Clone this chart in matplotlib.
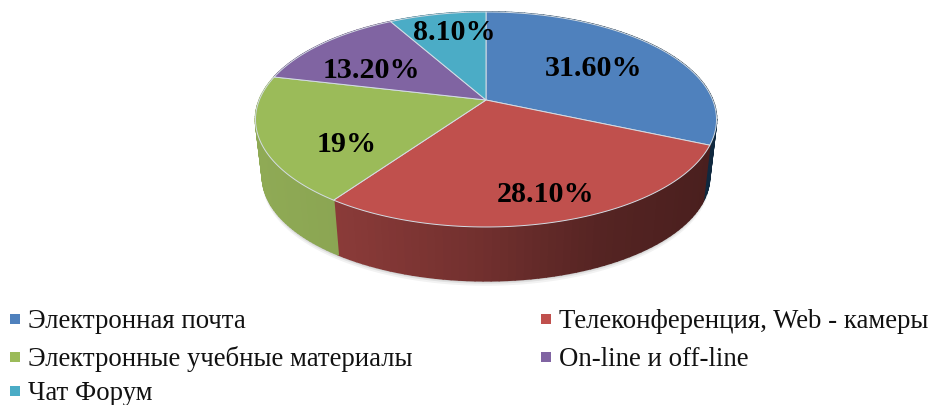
"""3D-looking pie of communication tools, drawn in pixel coordinates."""

import matplotlib

matplotlib.use("Agg")
import matplotlib.pyplot as plt
import numpy as np
from matplotlib.collections import PolyCollection
from matplotlib.colors import to_rgb

categories = [
    "Электронная почта",
    "Телеконференция, Web - камеры",
    "Электронные учебные материалы",
    "On-line и off-line",
    "Чат Форум",
]
values = [31.6, 28.1, 19.0, 13.2, 8.1]
value_labels = ["31.60%", "28.10%", "19%", "13.20%", "8.10%"]
colors = ["#4F81BD", "#C0504D", "#9BBB59", "#8064A2", "#4BACC6"]
wall_colors = ["#1F4E79", "#8E3C3A", "#8FAA55", "#5F4A7A", "#35819A"]

label_xy = [(594, 69), (546, 194), (347, 144), (371, 71), (454, 32)]
legend_xy = [(15, 319), (546, 319), (15, 357), (546, 357), (15, 391)]

# projection of the disc: perspective around the apex of the slices
APEX_X, APEX_Y = 486.0, 100.0
RX, RY, PERSP = 226.7, 104.0, -0.181
DEPTH = 54.0
BOTTOM_SCALE = 0.97


def top_rim(theta, r=1.0):
    u = r * np.sin(theta)
    v = r * np.cos(theta)
    den = 1 - PERSP * v
    return APEX_X + RX * u / den, APEX_Y - RY * v / den


def bottom_rim(theta, offset=DEPTH):
    x, y = top_rim(theta)
    cx, cy = APEX_X, 120.0
    return cx + (x - cx) * BOTTOM_SCALE, cy + (y - cy) * BOTTOM_SCALE + offset + 3.0


def wall_shade(x):
    # light on the left, dark towards the right
    return np.interp(x, [256, 340, 480, 600, 710], [1.0, 0.97, 0.8, 0.6, 0.52])


def main():
    fig = plt.figure(figsize=(9.34, 4.05), dpi=100)
    ax = fig.add_axes([0, 0, 1, 1])
    ax.set_xlim(0, 934)
    ax.set_ylim(405, 0)
    ax.axis("off")

    plt.rcParams["font.family"] = ["Liberation Serif", "DejaVu Serif"]

    edges = np.concatenate([[0], np.cumsum(values)]) / sum(values) * 2 * np.pi

    # soft shadow under the disc
    ring = np.linspace(0, 2 * np.pi, 240)
    for grow, alpha in [(5, 0.05), (3, 0.07), (1.5, 0.09)]:
        bx, by = bottom_rim(ring, DEPTH + grow)
        ax.fill(bx, by, color="#000000", alpha=alpha, lw=0, zorder=1)

    # side walls as thin strips, so the shading runs across them
    for i, color in enumerate(wall_colors):
        steps = np.linspace(edges[i], edges[i + 1], 60)
        strips, strip_colors = [], []
        base = np.array(to_rgb(color))
        for a, b in zip(steps[:-1], steps[1:]):
            x0, y0 = top_rim(a)
            x1, y1 = top_rim(b)
            x2, y2 = bottom_rim(b)
            x3, y3 = bottom_rim(a)
            strips.append([(x0, y0), (x1, y1), (x2, y2), (x3, y3)])
            strip_colors.append(tuple(base * wall_shade((x0 + x1) / 2)))
        ax.add_collection(
            PolyCollection(strips, facecolors=strip_colors, edgecolors=strip_colors, linewidths=1.2, zorder=2)
        )

    # top faces
    for i, color in enumerate(colors):
        steps = np.linspace(edges[i], edges[i + 1], 120)
        rx, ry = top_rim(steps)
        ax.fill(
            np.r_[APEX_X, rx],
            np.r_[APEX_Y, ry],
            facecolor=color,
            edgecolor="#D5DDE5",
            linewidth=0.7,
            zorder=3,
        )

    for text, (x, y) in zip(value_labels, label_xy):
        ax.text(x, y, text, fontsize=21.6, fontweight="bold", color="black", ha="center", va="center", zorder=5)

    # legend
    for name, color, (x, y) in zip(categories, colors, legend_xy):
        ax.scatter([x], [y], marker="s", s=62, color=color, linewidths=0, zorder=5)
        ax.text(x + 13, y + 2, name, fontsize=19.3, color="#111111", ha="left", va="center", zorder=5)

    fig.savefig("out.png", dpi=100)
    plt.close(fig)


if __name__ == "__main__":
    main()
